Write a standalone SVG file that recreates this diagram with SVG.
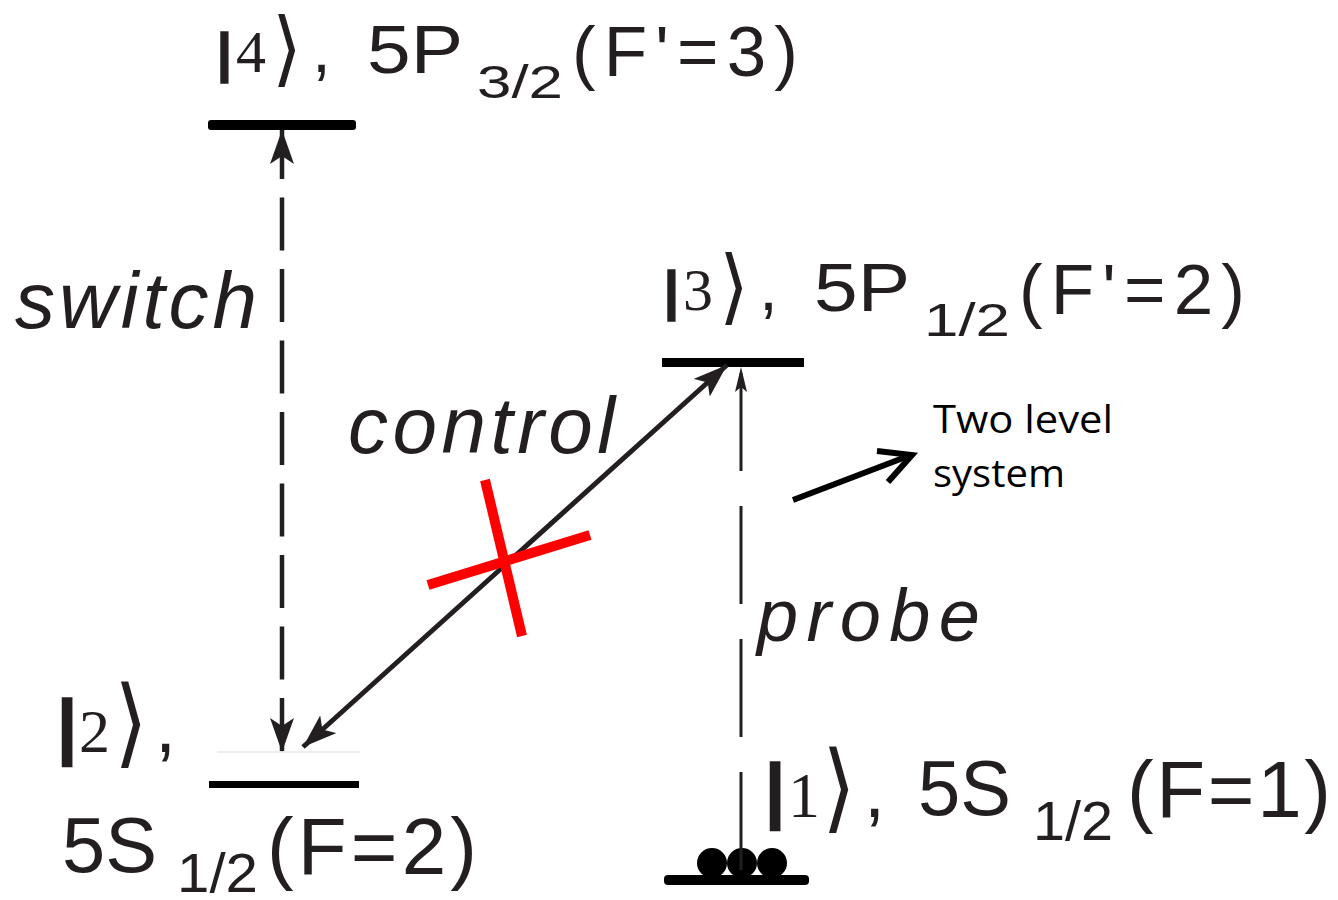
<svg xmlns="http://www.w3.org/2000/svg" width="1338" height="900" viewBox="0 0 1338 900">
<style>
.t { font-family: "Liberation Sans", Arial, sans-serif; fill: #231f20; }
.it { font-style: italic; }
.kb { font-family: "Liberation Sans", Arial, sans-serif; font-weight: bold; fill: #231f20; stroke: #231f20; stroke-width: 1.5; }
.kd { font-family: "Liberation Serif", "Times New Roman", serif; fill: #231f20; }
.ka { font-family: "DejaVu Sans", sans-serif; fill: #231f20; }
.note { font-family: "Open Sans", "Liberation Sans", sans-serif; fill: #000; }
.lvl { fill: #000; }
.ln { stroke: #231f20; fill: none; }
</style>
<defs>
<marker id="ah" markerUnits="userSpaceOnUse" markerWidth="36" markerHeight="24" viewBox="0 0 36 24" refX="34" refY="12" orient="auto-start-reverse">
<path d="M0,0 L34,12 L0,24 L8,12 Z" fill="#231f20"/>
</marker>
<marker id="ahs" markerUnits="userSpaceOnUse" markerWidth="26" markerHeight="12" viewBox="0 0 26 12" refX="25" refY="6" orient="auto-start-reverse">
<path d="M0,0 L25,6 L0,12 L5,6 Z" fill="#231f20"/>
</marker>
</defs>

<g id="level4">
<rect class="lvl" x="208" y="120" width="148" height="10" rx="3"/>
<text class="kb" x="217" y="71" font-size="53">|</text>
<text class="kd" x="236" y="72" font-size="60">4</text>
<text class="ka" x="272" y="76" font-size="82" textLength="30" lengthAdjust="spacingAndGlyphs">⟩</text>
<text class="t" x="312" y="72" font-size="68">,</text>
<text class="t" x="367" y="73" font-size="68" textLength="96" lengthAdjust="spacingAndGlyphs">5P</text>
<text class="t" x="477" y="98" font-size="46" textLength="86" lengthAdjust="spacingAndGlyphs">3/2</text>
<text class="t" x="572" y="76" font-size="71" textLength="226" lengthAdjust="spacing">(F'=3)</text>
</g>

<g id="level3">
<rect class="lvl" x="662" y="358" width="142" height="9"/>
<text class="kb" x="664" y="309" font-size="53">|</text>
<text class="kd" x="683" y="310" font-size="60">3</text>
<text class="ka" x="719" y="314" font-size="82" textLength="30" lengthAdjust="spacingAndGlyphs">⟩</text>
<text class="t" x="759" y="310" font-size="68">,</text>
<text class="t" x="814" y="311" font-size="68" textLength="96" lengthAdjust="spacingAndGlyphs">5P</text>
<text class="t" x="924" y="336" font-size="46" textLength="86" lengthAdjust="spacingAndGlyphs">1/2</text>
<text class="t" x="1019" y="314" font-size="71" textLength="226" lengthAdjust="spacing">(F'=2)</text>
</g>

<g id="level2">
<line x1="217" y1="752" x2="360" y2="752" stroke="#dddddd" stroke-width="1"/>
<rect class="lvl" x="209" y="781" width="150" height="7"/>
<text class="kb" x="57" y="751" font-size="72">|</text>
<text class="kd" x="79" y="752" font-size="62">2</text>
<text class="ka" x="114" y="755" font-size="97" textLength="34" lengthAdjust="spacingAndGlyphs">⟩</text>
<text class="t" x="155" y="752" font-size="76">,</text>
<text class="t" x="62" y="872" font-size="78" textLength="95" lengthAdjust="spacingAndGlyphs">5S</text>
<text class="t" x="177" y="892" font-size="56" textLength="81" lengthAdjust="spacingAndGlyphs">1/2</text>
<text class="t" x="267" y="874" font-size="80" textLength="210" lengthAdjust="spacing">(F=2)</text>
</g>

<g id="level1">
<rect class="lvl" x="664" y="875" width="145" height="10" rx="4"/>
<circle class="lvl" cx="712" cy="863" r="15"/>
<circle class="lvl" cx="742" cy="863" r="15"/>
<circle class="lvl" cx="772" cy="863" r="15"/>
<text class="kb" x="765" y="815" font-size="72">|</text>
<text class="kd" x="788" y="817" font-size="64">1</text>
<text class="ka" x="822" y="820" font-size="97" textLength="34" lengthAdjust="spacingAndGlyphs">⟩</text>
<text class="t" x="864" y="817" font-size="76">,</text>
<text class="t" x="918" y="815" font-size="78" textLength="93" lengthAdjust="spacingAndGlyphs">5S</text>
<text class="t" x="1033" y="840" font-size="56" textLength="80" lengthAdjust="spacingAndGlyphs">1/2</text>
<text class="t" x="1127" y="817" font-size="80" textLength="204" lengthAdjust="spacing">(F=1)</text>
</g>

<g id="labels">
<text class="t it" x="15" y="328" font-size="80" textLength="242" lengthAdjust="spacing">switch</text>
<text class="t it" x="348" y="453" font-size="80" textLength="267" lengthAdjust="spacing">control</text>
<text class="t it" x="757" y="641" font-size="74" textLength="223" lengthAdjust="spacing">probe</text>
</g>

<g id="note">
<text class="note" x="933" y="433" font-size="38" textLength="180" lengthAdjust="spacingAndGlyphs">Two level</text>
<text class="note" x="933" y="487" font-size="38" textLength="132" lengthAdjust="spacingAndGlyphs">system</text>
</g>

<g id="connectors">
<line class="ln" x1="282" y1="130" x2="282" y2="752" stroke-width="4.5" stroke-dasharray="53 18.5" stroke-dashoffset="4" marker-start="url(#ah)" marker-end="url(#ah)"/>
<line class="ln" x1="303" y1="747" x2="727" y2="365" stroke-width="5" marker-start="url(#ah)" marker-end="url(#ah)"/>
<line class="ln" x1="741" y1="870" x2="741" y2="367" stroke-width="3" stroke-dasharray="98 35" marker-end="url(#ahs)"/>
<line x1="793" y1="500" x2="911" y2="455" stroke="#000" stroke-width="6"/>
<polyline points="877,451 912,455 888,482" fill="none" stroke="#000" stroke-width="6" stroke-linejoin="miter"/>
</g>

<g id="cross">
<line x1="485" y1="480" x2="522" y2="636" stroke="#ff0000" stroke-width="10"/>
<line x1="428" y1="585" x2="590" y2="535" stroke="#ff0000" stroke-width="10"/>
</g>
</svg>
